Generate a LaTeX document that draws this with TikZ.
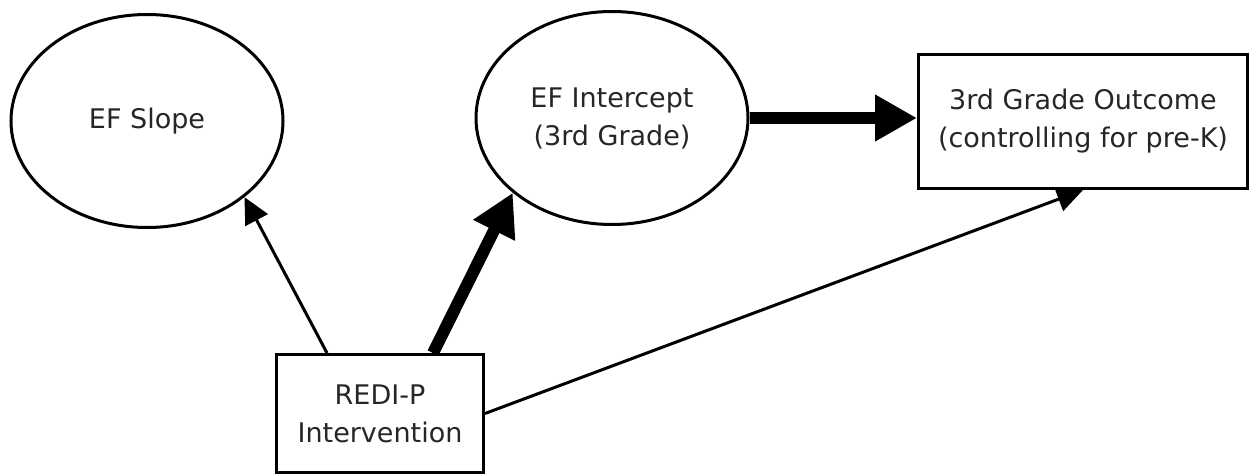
\documentclass[tikz,border=0pt]{standalone}
\usepackage{fontspec}
\setmainfont{DejaVu Sans}
\usetikzlibrary{shapes.geometric,arrows.meta}

\begin{document}
\begin{tikzpicture}[x=1pt,y=-1pt,
        font=\fontsize{27}{38}\selectfont,
        latent/.style={draw,ellipse,line width=3pt,minimum width=272pt,minimum height=213pt,inner sep=0pt,align=center,text=black!85},
        observed/.style={draw,rectangle,line width=3pt,inner sep=0pt,align=center,text=black!85},
        weakpath/.style={line width=3pt,-{Triangle[length=26pt,width=25pt]}},
        strongpath/.style={line width=12pt,-{Triangle[length=42pt,width=44pt]}}]
        \useasboundingbox (0,0) rectangle (1250,476);
        \node[latent] (slope) at (147,121) {EF Slope};
        \node[latent] (icpt) at (612,118) {EF Intercept\\(3rd Grade)};
        \node[observed,minimum width=329pt,minimum height=134pt] (outc) at (1083,121.5) {3rd Grade Outcome\\(controlling for pre-K)};
        \node[observed,minimum width=207pt,minimum height=118pt] (redi) at (380,413.5) {REDI-P\\Intervention};
        \draw[weakpath] ([xshift=-53pt]redi.north) -- (slope.-38);
        \draw[strongpath] ([xshift=53pt]redi.north) -- (icpt.217);
        \draw[strongpath] (icpt.east) -- (icpt.east -| outc.west);
        \draw[weakpath] (redi.east) -- (outc.south);
    \end{tikzpicture}
\end{document}
